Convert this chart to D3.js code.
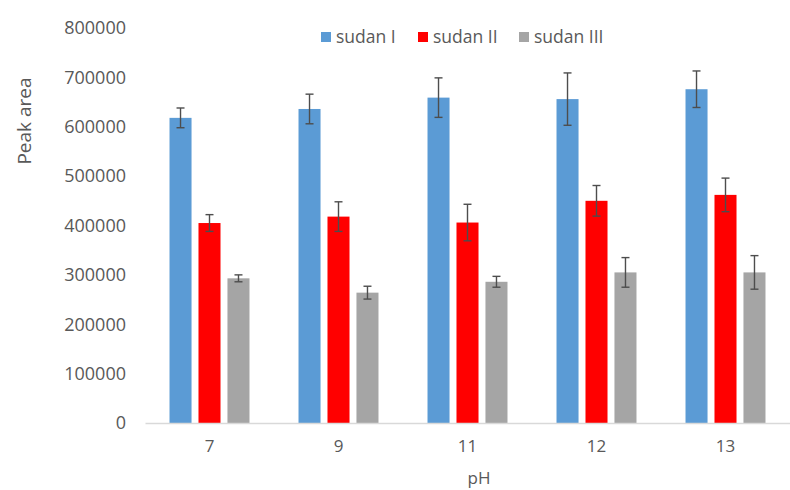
<!DOCTYPE html>
<html><head><meta charset="utf-8">
<script src="https://cdn.jsdelivr.net/npm/d3@7"></script>
<style>body{margin:0;background:#fff}svg{display:block}text{font-family:"Open Sans",sans-serif;fill:#595959}</style>
</head><body><svg id="c" width="790" height="490"></svg>
<script>
const categories = ["7","9","11","12","13"];
const seriesNames = ["sudan I","sudan II","sudan III"];
const sudanI = [618000, 636000, 659000, 656000, 676000];
const sudanII = [405000, 418000, 406000, 450000, 462000];
const sudanIII = [293000, 264000, 286000, 305000, 305000];
const errI = [20000, 30000, 40000, 53000, 37000];
const errII = [17000, 30000, 37000, 31000, 34000];
const errIII = [7000, 13000, 11000, 30000, 34000];
const yTicks = [0,100000,200000,300000,400000,500000,600000,700000,800000];
const colors = ["#5B9BD5","#FF0000","#A5A5A5"];

const values = [sudanI, sudanII, sudanIII];
const errs = [errI, errII, errIII];
const svg = d3.select("#c");
const x0 = 145, x1 = 790, yTop = 28, yBot = 423;
const x = d3.scaleBand().domain(categories).range([x0, x1]).paddingInner(0.38).paddingOuter(0.19);
const xs = d3.scaleBand().domain(seriesNames).range([0, x.bandwidth()]).paddingInner(0.24);
const y = d3.scaleLinear().domain([0, 800000]).range([yBot, yTop]);

// y axis labels
const yAxis = d3.axisLeft(y).tickValues(yTicks).tickFormat(d3.format("d")).tickSize(0).tickPadding(0);
const gy = svg.append("g").attr("transform", "translate(126,0)").call(yAxis);
gy.select(".domain").remove();
gy.selectAll("text").style("font-size","18px").attr("fill","#595959");

// bars
seriesNames.forEach((s, si) => {
  const g = svg.append("g");
  g.selectAll("rect").data(categories).join("rect")
    .attr("x", c => x(c) + xs(s))
    .attr("y", (c,i) => y(values[si][i]))
    .attr("width", xs.bandwidth())
    .attr("height", (c,i) => y(0) - y(values[si][i]))
    .attr("fill", colors[si]);
  // error bars
  categories.forEach((c,i) => {
    const cx = x(c) + xs(s) + xs.bandwidth()/2;
    const hi = y(values[si][i] + errs[si][i]), lo = y(values[si][i] - errs[si][i]);
    g.append("line").attr("x1",cx).attr("x2",cx).attr("y1",hi).attr("y2",lo).attr("stroke","#4d4d4d").attr("stroke-width",1.4);
    g.append("line").attr("x1",cx-4).attr("x2",cx+4).attr("y1",hi).attr("y2",hi).attr("stroke","#4d4d4d").attr("stroke-width",1.4);
    g.append("line").attr("x1",cx-4).attr("x2",cx+4).attr("y1",lo).attr("y2",lo).attr("stroke","#4d4d4d").attr("stroke-width",1.4);
  });
});

// x axis
const xAxis = d3.axisBottom(x).tickSize(0).tickPadding(17);
const gx = svg.append("g").attr("transform", `translate(0,${yBot})`).call(xAxis);
gx.select(".domain").attr("stroke","#d9d9d9").attr("stroke-width",1.5);
gx.selectAll("text").style("font-size","17px").attr("fill","#595959");

// axis titles
svg.append("text").attr("transform","translate(31,121) rotate(-90)").attr("text-anchor","middle")
  .style("font-size","19px").text("Peak area");
svg.append("text").attr("x",479).attr("y",484).attr("text-anchor","middle").style("font-size","17px").text("pH");

// legend
const legX = [321, 418, 519];
seriesNames.forEach((s, si) => {
  svg.append("rect").attr("x", legX[si]).attr("y", 32).attr("width", 10).attr("height", 10).attr("fill", colors[si]);
  svg.append("text").attr("x", legX[si] + 15).attr("y", 43).style("font-size","17.5px").text(s);
});
</script></body></html>
